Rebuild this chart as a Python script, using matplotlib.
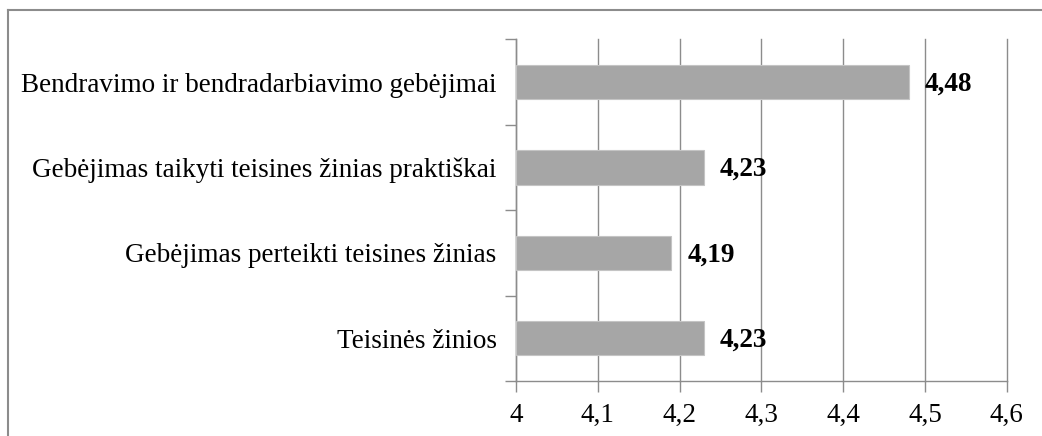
import matplotlib
matplotlib.use("Agg")
import matplotlib.pyplot as plt
from matplotlib.lines import Line2D

# data (top to bottom as in the picture)
categories = [
    "Bendravimo ir bendradarbiavimo gebėjimai",
    "Gebėjimas taikyti teisines žinias praktiškai",
    "Gebėjimas perteikti teisines žinias",
    "Teisinės žinios",
]
values = [4.48, 4.23, 4.19, 4.23]
value_labels = ["4,48", "4,23", "4,19", "4,23"]
xticks = [4.0, 4.1, 4.2, 4.3, 4.4, 4.5, 4.6]
xtick_labels = ["4", "4,1", "4,2", "4,3", "4,4", "4,5", "4,6"]

plt.rcParams['font.family'] = ['Liberation Serif', 'DejaVu Serif']

fig = plt.figure(figsize=(10.42, 4.36), dpi=100)
ax = fig.add_axes([0.4952, 0.1261, 0.9662 - 0.4952, 0.9099 - 0.1261])

grid_col = "#8c8c8c"
fs = 19.5
ypos = list(range(len(categories)))
# bars start at 4 (left limit of the axis)
ax.barh(ypos, [v - 4.0 for v in values], left=4.0, height=0.4,
        color="#a6a6a6", edgecolor="#c4c4c4", linewidth=0.8, zorder=3)

for y, v, lab in zip(ypos, values, value_labels):
    ax.annotate(lab, (v, y), xytext=(11.5, -1.5), textcoords="offset points",
                ha="left", va="center", fontsize=fs, fontweight="bold", zorder=4)

ax.set_xlim(4.0, 4.6)
ax.set_ylim(len(categories) - 0.5, -0.5)
ax.set_xticks(xticks)
ax.set_xticklabels(xtick_labels, fontsize=fs)
ax.set_yticks(ypos)
ax.set_yticklabels(categories, fontsize=fs)
ax.set_yticks([i - 0.5 for i in range(len(categories) + 1)], minor=True)

ax.tick_params(axis="y", which="major", length=0, pad=14)
ax.tick_params(axis="y", which="minor", length=8, color=grid_col, width=1)
ax.tick_params(axis="x", length=8, color=grid_col, width=1, pad=8)

ax.grid(axis="x", color=grid_col, linewidth=1, zorder=0)
for gl in ax.get_xgridlines():
    gl.set_clip_on(False)
ax.set_axisbelow(True)
for s in ["top", "right"]:
    ax.spines[s].set_visible(False)
for s in ["left", "bottom"]:
    ax.spines[s].set_color(grid_col)
    ax.spines[s].set_linewidth(1)

# outer frame (top and left edges only visible)
fx = 8 / 1042
fy = 1 - 10 / 436
fig.add_artist(Line2D([fx, 1], [fy, fy], color="#8c8c8c", lw=1.5, transform=fig.transFigure))
fig.add_artist(Line2D([fx, fx], [0, fy], color="#8c8c8c", lw=1.5, transform=fig.transFigure))

fig.savefig("out.png", dpi=100)
